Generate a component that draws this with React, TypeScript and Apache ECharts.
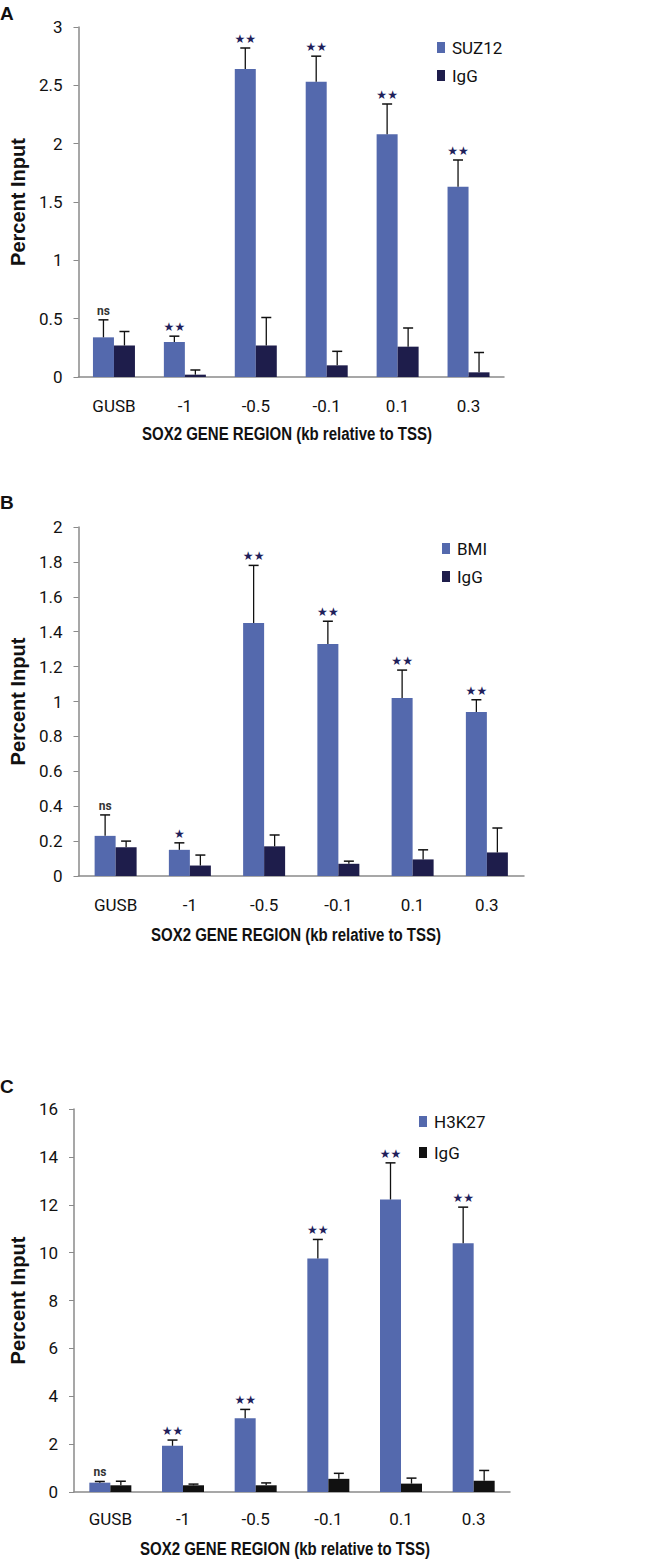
import React, { useEffect, useRef } from "react";
import * as echarts from "echarts";

const categories = ["GUSB", "-1", "-0.5", "-0.1", "0.1", "0.3"];
const xTitle = "SOX2 GENE REGION (kb relative to TSS)";
const yTitle = "Percent Input";

// Panel A
const suz12 = [0.34, 0.3, 2.64, 2.53, 2.08, 1.63];
const suz12Err = [0.15, 0.05, 0.18, 0.22, 0.26, 0.23];
const igGA = [0.27, 0.02, 0.27, 0.1, 0.26, 0.04];
const igGAErr = [0.12, 0.04, 0.24, 0.12, 0.16, 0.17];
const sigA = ["ns", "★★", "★★", "★★", "★★", "★★"];

// Panel B
const bmi = [0.23, 0.15, 1.45, 1.33, 1.02, 0.94];
const bmiErr = [0.12, 0.04, 0.33, 0.13, 0.16, 0.07];
const igGB = [0.165, 0.06, 0.17, 0.07, 0.095, 0.135];
const igGBErr = [0.035, 0.06, 0.065, 0.015, 0.055, 0.14];
const sigB = ["ns", "★", "★★", "★★", "★★", "★★"];

// Panel C
const h3k27 = [0.39, 1.93, 3.08, 9.75, 12.22, 10.39];
const h3k27Err = [0.05, 0.24, 0.37, 0.8, 1.53, 1.51];
const igGC = [0.28, 0.28, 0.28, 0.55, 0.35, 0.47];
const igGCErr = [0.17, 0.05, 0.1, 0.23, 0.23, 0.43];
const sigC = ["ns", "★★", "★★", "★★", "★★", "★★"];

const BLUE = "#5469ad";
const NAVY = "#1e1d4b";
const BLACK = "#111111";
const AXIS = "#8a8a8a";
const NARROW = "Roboto, 'Liberation Sans', Arial, sans-serif";
const ARIAL = "'Liberation Sans', Arial, sans-serif";
const BAR_W = 21;

function errSeries(
  idx: number,
  values: number[],
  errs: number[],
  labels: string[] | null,
  side: number
) {
  return {
    type: "custom",
    xAxisIndex: idx,
    yAxisIndex: idx,
    z: 5,
    silent: true,
    data: values.map((v, i) => [i, v, v + errs[i]]),
    renderItem: (params: any, api: any) => {
      const i = api.value(0);
      const base = api.coord([i, api.value(1)]);
      const top = api.coord([i, api.value(2)]);
      const x = base[0] + (side * BAR_W) / 2;
      const cap = 5;
      const children: any[] = [
        {
          type: "line",
          shape: { x1: x, y1: base[1], x2: x, y2: top[1] },
          style: { stroke: "#111", lineWidth: 1.3 },
        },
        {
          type: "line",
          shape: { x1: x - cap, y1: top[1], x2: x + cap, y2: top[1] },
          style: { stroke: "#111", lineWidth: 1.5 },
        },
      ];
      if (labels) {
        const t = labels[i];
        const isNs = t === "ns";
        children.push({
          type: "text",
          x: x,
          y: top[1] - 3,
          style: {
            text: t,
            align: "center",
            verticalAlign: "bottom",
            fill: isNs ? "#333" : "#20205a",
            font: isNs
              ? `bold 12px ${NARROW}`
              : `12px 'DejaVu Sans', sans-serif`,
          },
        });
      }
      return { type: "group", children };
    },
  };
}

function xAxisDef(idx: number, labelMargin: number) {
  return {
    type: "category",
    gridIndex: idx,
    data: categories,
    axisLine: { lineStyle: { color: AXIS, width: 1.5 } },
    axisTick: { show: false },
    axisLabel: {
      color: "#111",
      fontFamily: NARROW,
      fontSize: 17,
      margin: labelMargin,
    },
  };
}

function yAxisDef(idx: number, max: number, interval: number, nameGap: number) {
  return {
    type: "value",
    gridIndex: idx,
    min: 0,
    max,
    interval,
    axisLine: { show: true, lineStyle: { color: AXIS, width: 1.5 } },
    axisTick: { show: true, length: 5, lineStyle: { color: AXIS } },
    splitLine: { show: false },
    axisLabel: {
      color: "#111",
      fontFamily: NARROW,
      fontSize: 17,
      margin: 16,
    },
    name: yTitle,
    nameLocation: "middle",
    nameGap,
    nameTextStyle: {
      fontFamily: ARIAL,
      fontWeight: "bold",
      fontSize: 20,
      color: "#111",
    },
  };
}

function legendDef(left: number, top: number, first: string, igColor: string, gap: number) {
  return {
    orient: "vertical",
    left,
    top,
    itemWidth: 8,
    itemHeight: 11,
    itemGap: gap,
    selectedMode: false,
    textStyle: { fontFamily: NARROW, fontSize: 17, color: "#111", padding: [0, 0, 0, 2] },
    data: [
      { name: first, icon: "rect", itemStyle: { color: BLUE } },
      { name: "IgG", icon: "rect", itemStyle: { color: igColor } },
    ],
  };
}

function bar(idx: number, name: string, data: number[], color: string) {
  return {
    type: "bar",
    name,
    xAxisIndex: idx,
    yAxisIndex: idx,
    data,
    barWidth: BAR_W,
    barGap: "0%",
    itemStyle: { color },
  };
}

export default function App() {
  const ref = useRef<HTMLDivElement>(null);
  useEffect(() => {
    if (!ref.current) return;
    const chart = echarts.init(ref.current, null, { renderer: "svg" });
    const letter = (t: string, y: number) => ({
      type: "text",
      left: 0,
      top: y,
      style: { text: t, font: `bold 19px ${ARIAL}`, fill: "#111" },
    });
    const title = (cx: number, cy: number) => ({
      type: "text",
      x: cx,
      y: cy,
      scaleX: 0.79,
      style: {
        text: xTitle,
        font: `bold 19px ${ARIAL}`,
        fill: "#111",
        align: "center",
        verticalAlign: "middle",
      },
    });
    chart.setOption({
      animation: false,
      backgroundColor: "#fff",
      grid: [
        { left: 69, top: 27, width: 435, height: 350 },
        { left: 68, top: 527, width: 456, height: 349 },
        { left: 59, top: 1109, width: 451, height: 383 },
      ],
      xAxis: [xAxisDef(0, 20), xAxisDef(1, 20), xAxisDef(2, 18)],
      yAxis: [yAxisDef(0, 3, 0.5, 37), yAxisDef(1, 2, 0.2, 36), yAxisDef(2, 16, 2, 25)],
      legend: [
        legendDef(432, 34, "SUZ12", NAVY, 11),
        legendDef(437, 535, "BMI", NAVY, 11),
        legendDef(414, 1108, "H3K27", BLACK, 14),
      ],
      graphic: [
        letter("A", 4),
        letter("B", 493),
        letter("C", 1077),
        title(287, 434),
        title(296, 935),
        title(285, 1549),
      ],
      series: [
        bar(0, "SUZ12", suz12, BLUE),
        bar(0, "IgG", igGA, NAVY),
        errSeries(0, suz12, suz12Err, sigA, -1),
        errSeries(0, igGA, igGAErr, null, 1),
        bar(1, "BMI", bmi, BLUE),
        bar(1, "IgG", igGB, NAVY),
        errSeries(1, bmi, bmiErr, sigB, -1),
        errSeries(1, igGB, igGBErr, null, 1),
        bar(2, "H3K27", h3k27, BLUE),
        bar(2, "IgG", igGC, BLACK),
        errSeries(2, h3k27, h3k27Err, sigC, -1),
        errSeries(2, igGC, igGCErr, null, 1),
      ],
    });
    return () => chart.dispose();
  }, []);
  return (
    <div
      ref={ref}
      style={{ position: "absolute", left: 0, top: 0, width: 661, height: 1561 }}
    />
  );
}
